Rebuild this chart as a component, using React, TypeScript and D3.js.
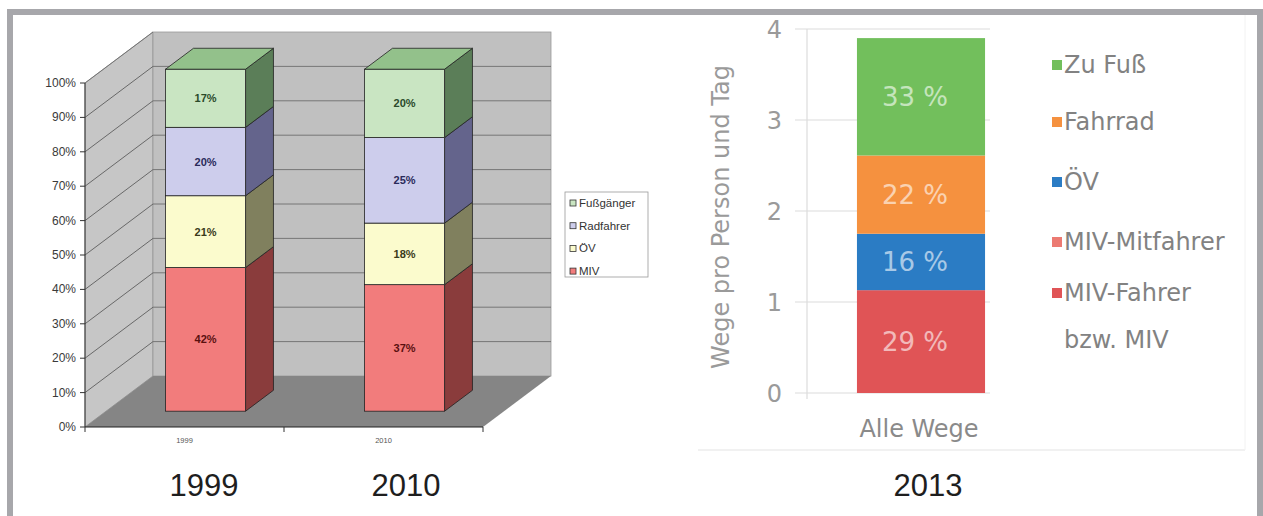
import React from "react";
import * as d3 from "d3";

// ---------- Data: left 3D chart ----------
const leftYears = ["1999", "2010"];
const leftSeries = ["MIV", "ÖV", "Radfahrer", "Fußgänger"]; // stacked bottom -> top
const values1999 = [42, 21, 20, 17];
const values2010 = [37, 18, 25, 20];
const leftTicks = [0, 10, 20, 30, 40, 50, 60, 70, 80, 90, 100];
const legendLeft = ["Fußgänger", "Radfahrer", "ÖV", "MIV"];

// ---------- Data: right chart ----------
const rightCategories = ["Alle Wege"];
const rightSeries = ["MIV-Fahrer bzw. MIV", "MIV-Mitfahrer", "ÖV", "Fahrrad", "Zu Fuß"]; // bottom -> top
const rightValues = [1.13, 0, 0.62, 0.86, 1.29];
const rightPercents = [29, 0, 16, 22, 33];
const rightTicks = [0, 1, 2, 3, 4];
const legendRight = ["Zu Fuß", "Fahrrad", "ÖV", "MIV-Mitfahrer", "MIV-Fahrer bzw. MIV"];

const panelLabels = ["1999", "2010", "2013"];

// styles
const frontColor: Record<string, string> = {
  MIV: "#f27c7c",
  "ÖV": "#fbfbcd",
  Radfahrer: "#cdcdec",
  "Fußgänger": "#c9e5c2",
};
const sideColor: Record<string, string> = {
  MIV: "#8a3c3c",
  "ÖV": "#80805e",
  Radfahrer: "#64648c",
  "Fußgänger": "#5b7e58",
};
const labelColor: Record<string, string> = {
  MIV: "#5a1010",
  "ÖV": "#3a3a1a",
  Radfahrer: "#2a2a5a",
  "Fußgänger": "#2a4a2a",
};
const rightColor: Record<string, string> = {
  "MIV-Fahrer bzw. MIV": "#e05456",
  "MIV-Mitfahrer": "#ec7a72",
  "ÖV": "#2b7cc4",
  Fahrrad: "#f5913f",
  "Zu Fuß": "#72bf5c",
};

function LeftChart() {
  const y = d3.scaleLinear().domain([0, 100]).range([427, 83]);
  const x = d3.scaleBand<string>().domain(leftYears).range([85, 483]);
  const DX = 68, DY = -51; // full depth vector
  const dFront = 0.31, dBack = 0.72;
  const barW = 80;
  const backY = (v: number) => y(v) + DY;
  const dataByYear = [values1999, values2010];
  const yBar = d3.scaleLinear().domain([0, 100]).range([y(0) + DY * dFront, y(100) + DY * dFront + 2]);

  const pts = (a: [number, number][]) => a.map((p) => p.join(",")).join(" ");

  return (
    <g>
      {/* left wall */}
      <polygon points={pts([[85, y(0)], [85, y(100)], [85 + DX, backY(100)], [85 + DX, backY(0)]])} fill="#c6c6c6" stroke="#8a8a8a" strokeWidth={0.8} />
      {/* back wall */}
      <rect x={85 + DX} y={backY(100)} width={x(leftYears[1])! + x.bandwidth() - 85} height={backY(0) - backY(100)} fill="#c0c0c0" stroke="#9a9a9a" strokeWidth={0.8} />
      {/* floor */}
      <polygon points={pts([[85, y(0)], [85 + DX, backY(0)], [483 + DX, backY(0)], [483, y(0)]])} fill="#858585" />
      {/* gridlines */}
      {leftTicks.filter((t) => t > 0 && t < 100).map((t) => (
        <g key={t}>
          <line x1={85} y1={y(t)} x2={85 + DX} y2={backY(t)} stroke="#5e5e5e" strokeWidth={0.9} />
          <line x1={85 + DX} y1={backY(t)} x2={483 + DX} y2={backY(t)} stroke="#6e6e6e" strokeWidth={0.9} />
        </g>
      ))}
      <line x1={85} y1={y(100)} x2={85 + DX} y2={backY(100)} stroke="#6e6e6e" strokeWidth={0.9} />
      {/* y axis */}
      <line x1={85} y1={y(0)} x2={85} y2={y(100)} stroke="#333" strokeWidth={1} />
      {leftTicks.map((t) => (
        <g key={t}>
          <line x1={80} y1={y(t)} x2={85} y2={y(t)} stroke="#333" strokeWidth={1} />
          <text x={76} y={y(t) + 4} textAnchor="end" fontFamily="Liberation Sans, Arial, sans-serif" fontSize={12} fill="#3a3a3a">
            {t}%
          </text>
        </g>
      ))}
      {/* x axis */}
      <line x1={85} y1={y(0)} x2={483} y2={y(0)} stroke="#222" strokeWidth={1.2} />
      {[85, x(leftYears[1])!, 483].map((tx, i) => (
        <line key={i} x1={tx} y1={y(0)} x2={tx} y2={y(0) + 5} stroke="#333" strokeWidth={1} />
      ))}
      {leftYears.map((yr) => (
        <text key={yr} x={x(yr)! + x.bandwidth() / 2} y={443} textAnchor="middle" fontFamily="Liberation Sans, Arial, sans-serif" fontSize={7.5} fill="#555">
          {yr}
        </text>
      ))}
      {/* bars */}
      {leftYears.map((yr, yi) => {
        const vals = dataByYear[yi];
        const cx = x(yr)! + x.bandwidth() / 2;
        const fx0 = cx + DX * dFront - barW / 2;
        const fx1 = fx0 + barW;
        const ddx = DX * (dBack - dFront);
        const ddy = DY * (dBack - dFront);
        let cum = 0;
        const segs = vals.map((v, i) => {
          const s = { name: leftSeries[i], v0: cum, v1: cum + v };
          cum += v;
          return s;
        });
        const top = segs[segs.length - 1];
        return (
          <g key={yr}>
            {segs.map((s) => {
              const yt = yBar(s.v1);
              const yb = yBar(s.v0);
              return (
                <g key={s.name}>
                  <polygon points={pts([[fx1, yb], [fx1, yt], [fx1 + ddx, yt + ddy], [fx1 + ddx, yb + ddy]])} fill={sideColor[s.name]} stroke="#222" strokeWidth={0.8} />
                  <rect x={fx0} y={yt} width={barW} height={yb - yt} fill={frontColor[s.name]} stroke="#222" strokeWidth={0.8} />
                  <text x={(fx0 + fx1) / 2} y={(yt + yb) / 2 + 4} textAnchor="middle" fontFamily="Liberation Sans, Arial, sans-serif" fontWeight="bold" fontSize={11} fill={labelColor[s.name]}>
                    {s.v1 - s.v0}%
                  </text>
                </g>
              );
            })}
            <polygon points={pts([[fx0, yBar(top.v1)], [fx1, yBar(top.v1)], [fx1 + ddx, yBar(top.v1) + ddy], [fx0 + ddx, yBar(top.v1) + ddy]])} fill="#93c18b" stroke="#222" strokeWidth={0.8} />
          </g>
        );
      })}
      {/* legend */}
      <rect x={565} y={192} width={83} height={85} fill="#fff" stroke="#999" strokeWidth={0.8} />
      {legendLeft.map((name, i) => (
        <g key={name}>
          <rect x={570} y={200 + i * 22.7} width={6} height={6} fill={frontColor[name]} stroke="#333" strokeWidth={0.8} />
          <text x={579} y={207 + i * 22.7} fontFamily="Liberation Sans, Arial, sans-serif" fontSize={11.5} fill="#333">
            {name}
          </text>
        </g>
      ))}
    </g>
  );
}

function RightChart() {
  const y = d3.scaleLinear().domain([0, 4]).range([393, 29]);
  const x = d3.scaleBand<string>().domain(rightCategories).range([807, 1035]).paddingInner(0).paddingOuter(0.39);
  const font = "DejaVu Sans, Verdana, sans-serif";
  const stack = d3.stack<number[]>().keys(rightSeries.map((_, i) => String(i))).value((d, k) => d[+k]);
  const series = stack([rightValues]);
  return (
    <g>
      {rightTicks.map((t) => (
        <g key={t}>
          <line x1={795} y1={y(t)} x2={990} y2={y(t)} stroke="#dcdcdc" strokeWidth={1.2} />
          <text x={782} y={y(t) + 9} textAnchor="end" fontFamily={font} fontSize={24} fill="#9a9a9a">
            {t}
          </text>
        </g>
      ))}
      <line x1={807} y1={y(4)} x2={807} y2={399} stroke="#dcdcdc" strokeWidth={1.2} />
      {series.map((s, i) => {
        const d = s[0];
        if (d[1] - d[0] <= 0) return null;
        const name = rightSeries[i];
        return (
          <g key={name}>
            <rect x={x(rightCategories[0])} y={y(d[1])} width={x.bandwidth()} height={y(d[0]) - y(d[1])} fill={rightColor[name]} />
            <text x={x(rightCategories[0])! + x.bandwidth() / 2 - 6} y={(y(d[0]) + y(d[1])) / 2 + 9} textAnchor="middle" fontFamily={font} fontSize={26} fill="#ffffff" fillOpacity={0.6}>
              {rightPercents[i]} %
            </text>
          </g>
        );
      })}
      <text x={919} y={437} textAnchor="middle" fontFamily={font} fontSize={24} fill="#8a8a8a">
        {rightCategories[0]}
      </text>
      <text transform="translate(729,217) rotate(-90)" textAnchor="middle" fontFamily={font} fontSize={24} fill="#9a9a9a">
        Wege pro Person und Tag
      </text>
      {legendRight.map((name, i) => {
        const cy = [65, 122, 182, 242, 293][i];
        const lines = name === "MIV-Fahrer bzw. MIV" ? ["MIV-Fahrer", "bzw. MIV"] : [name];
        return (
          <g key={name}>
            <rect x={1052} y={cy - 5} width={10} height={10} fill={rightColor[name]} />
            {lines.map((ln, j) => (
              <text key={ln} x={1064} y={cy + 8 + j * 47} fontFamily={font} fontSize={24} fill="#828282">
                {ln}
              </text>
            ))}
          </g>
        );
      })}
      <line x1={698} y1={450} x2={1245} y2={450} stroke="#ececec" strokeWidth={1.5} />
      <line x1={1245} y1={15} x2={1245} y2={450} stroke="#f2f2f2" strokeWidth={1} />
    </g>
  );
}

export default function App() {
  return (
    <svg width={1263} height={516} style={{ position: "absolute", left: 0, top: 0, background: "#fff" }}>
      <rect x={0} y={0} width={1263} height={516} fill="#fff" />
      {/* frame */}
      <rect x={7} y={9} width={1256} height={6} fill="#a7a7ab" />
      <rect x={7} y={9} width={6} height={507} fill="#a7a7ab" />
      <rect x={1257} y={9} width={6} height={507} fill="#a7a7ab" />
      <LeftChart />
      <RightChart />
      {panelLabels.map((lbl, i) => (
        <text key={lbl} x={[204, 406, 928][i]} y={496} textAnchor="middle" fontFamily="Liberation Sans, Arial, sans-serif" fontSize={31} fill="#1e1e1e">
          {lbl}
        </text>
      ))}
    </svg>
  );
}
